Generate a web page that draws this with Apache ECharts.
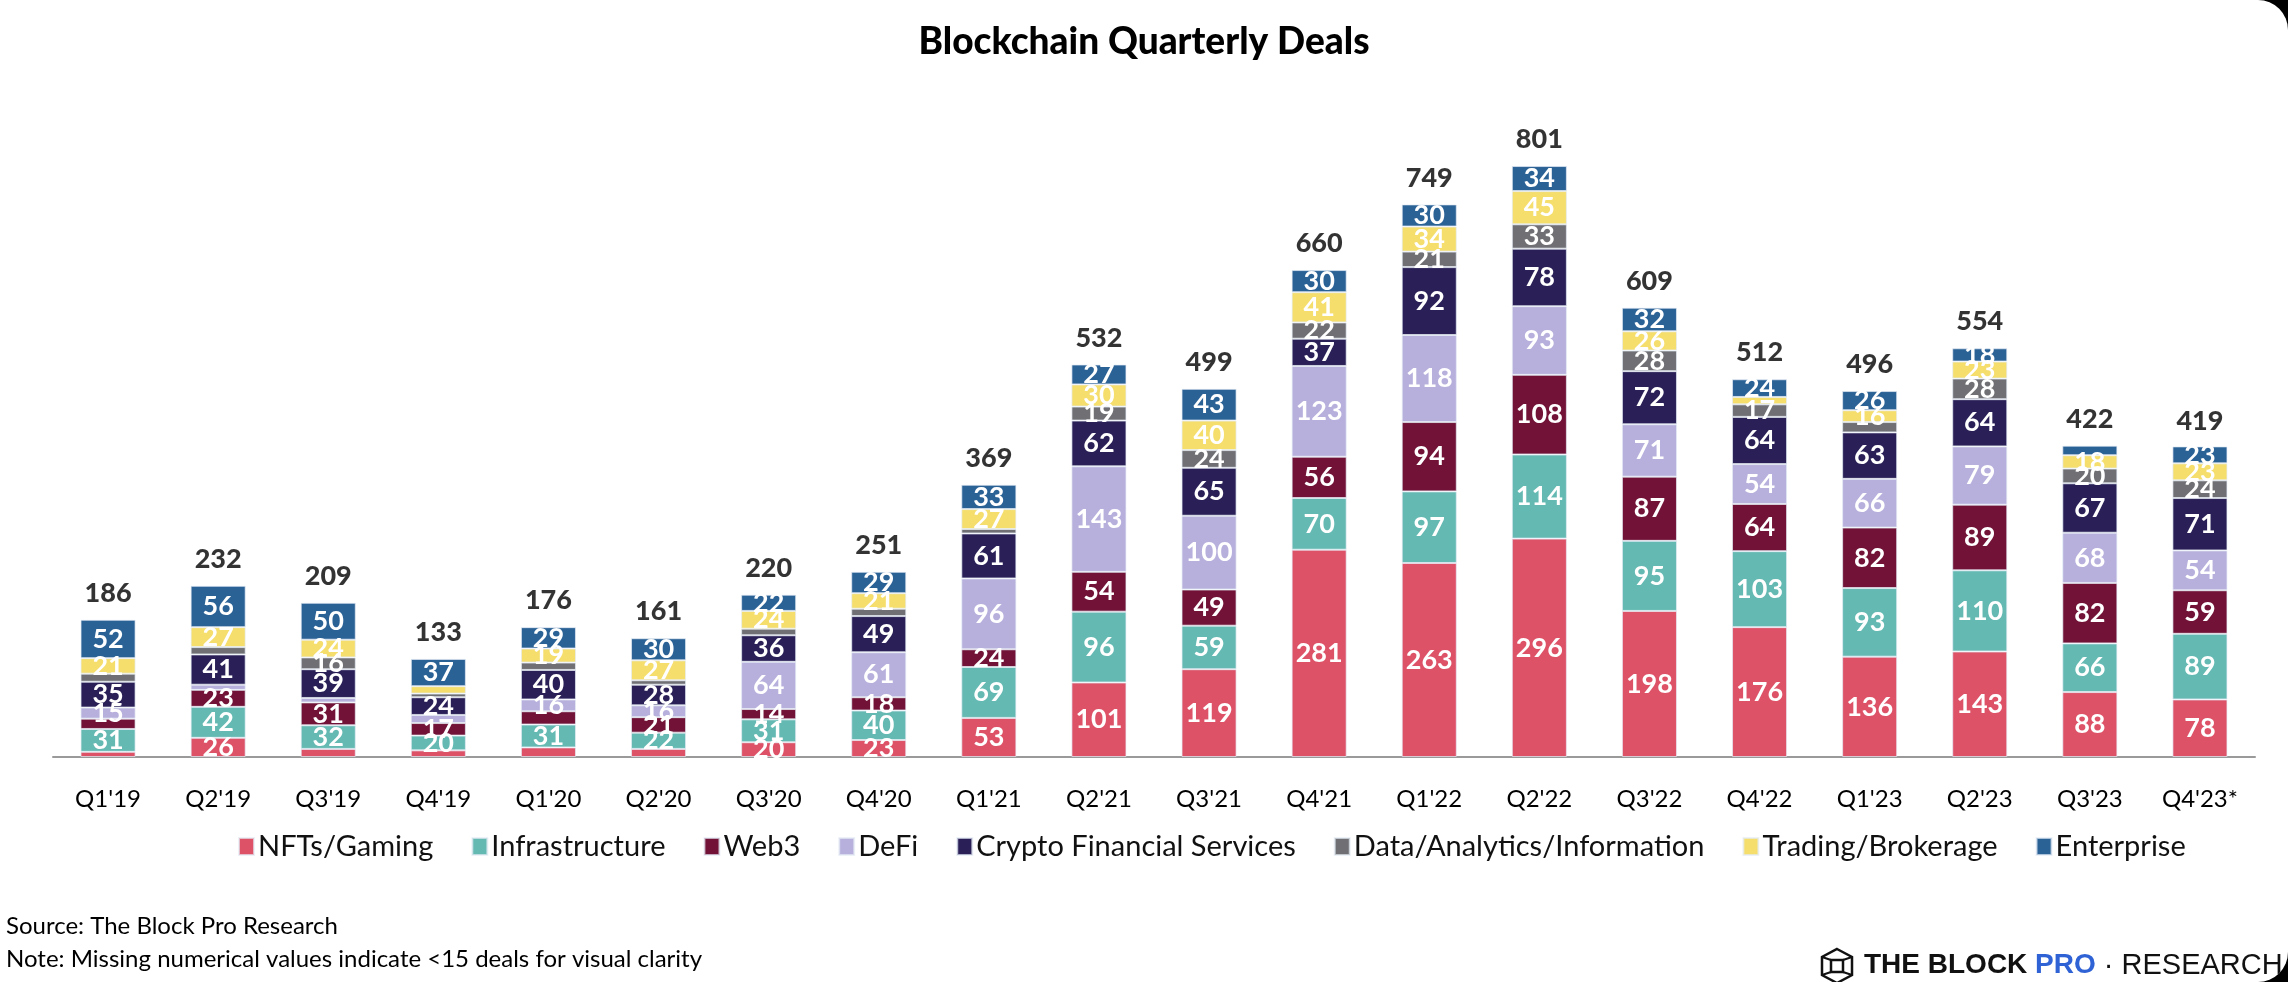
<!DOCTYPE html>
<html>
<head>
<meta charset="utf-8">
<script src="https://cdn.jsdelivr.net/npm/echarts@6/dist/echarts.min.js"></script>
<style>
  html, body { margin: 0; padding: 0; background: #000; }
  #chart { width: 2288px; height: 982px; background: #fff; border-radius: 0 30px 30px 0; overflow: hidden; }
</style>
</head>
<body>
<div id="chart"></div>
<script>
const categories = ["Q1'19","Q2'19","Q3'19","Q4'19","Q1'20","Q2'20","Q3'20","Q4'20","Q1'21","Q2'21","Q3'21","Q4'21","Q1'22","Q2'22","Q3'22","Q4'22","Q1'23","Q2'23","Q3'23","Q4'23*"];
const nftsGaming     = [7,26,11,9,13,11,20,23,53,101,119,281,263,296,198,176,136,143,88,78];
const infrastructure = [31,42,32,20,31,22,31,40,69,96,59,70,97,114,95,103,93,110,66,89];
const web3           = [14,23,31,17,18,21,14,18,24,54,49,56,94,108,87,64,82,89,82,59];
const defi           = [15,7,6,11,16,16,64,61,96,143,100,123,118,93,71,54,66,79,68,54];
const cryptoFinSvc   = [35,41,39,24,40,28,36,49,61,62,65,37,92,78,72,64,63,64,67,71];
const dataAnalytics  = [11,10,16,5,10,6,9,10,6,19,24,22,21,33,28,17,14,28,20,24];
const tradingBrokerage = [21,27,24,10,19,27,24,21,27,30,40,41,34,45,26,10,16,23,18,23];
const enterprise     = [52,56,50,37,29,30,22,29,33,27,43,30,30,34,32,24,26,18,13,23];
const totals         = [186,232,209,133,176,161,220,251,369,532,499,660,749,801,609,512,496,554,422,419];

const seriesDefs = [
  { name: 'NFTs/Gaming', data: nftsGaming, color: '#DE5268' },
  { name: 'Infrastructure', data: infrastructure, color: '#64B9B2' },
  { name: 'Web3', data: web3, color: '#711236' },
  { name: 'DeFi', data: defi, color: '#B7AFDC' },
  { name: 'Crypto Financial Services', data: cryptoFinSvc, color: '#2A2057' },
  { name: 'Data/Analytics/Information', data: dataAnalytics, color: '#707074' },
  { name: 'Trading/Brokerage', data: tradingBrokerage, color: '#F5DE6C' },
  { name: 'Enterprise', data: enterprise, color: '#2B6296' }
];
// labels follow the "<15 hidden" note, with the reference's own exceptions
const labelMin = 15;
const extraLabels = ["Q3'20|Web3"];
const hiddenLabels = ["Q1'20|Web3"];

const FONT = 'Lato';
const chart = echarts.init(document.getElementById('chart'), null, { renderer: 'canvas' });

const barSeries = seriesDefs.map(s => ({
  name: s.name,
  type: 'bar',
  stack: 'deals',
  barWidth: '50%',
  itemStyle: { color: s.color, borderColor: 'rgba(230,236,245,0.7)', borderWidth: 1 },
  label: {
    show: true,
    position: 'inside',
    color: '#fff',
    fontFamily: FONT,
    fontWeight: 'bold',
    fontSize: 27,
    formatter: p => {
      const key = categories[p.dataIndex] + '|' + s.name;
      if (hiddenLabels.includes(key)) return '';
      if (p.value >= labelMin || extraLabels.includes(key)) return String(p.value);
      return '';
    }
  },
  emphasis: { disabled: true },
  data: s.data
}));

const totalSeries = {
  name: 'Total',
  type: 'scatter',
  symbolSize: 0,
  itemStyle: { color: 'rgba(0,0,0,0)' },
  label: {
    show: true,
    position: 'top',
    distance: 13,
    color: '#000',
    fontFamily: FONT,
    fontWeight: 900,
    fontSize: 27,
    formatter: p => String(p.value)
  },
  z: 10,
  data: totals
};

chart.setOption({
  animation: false,
  backgroundColor: 'transparent',
  title: {
    text: 'Blockchain Quarterly Deals',
    left: 'center',
    top: 19,
    textStyle: { fontFamily: FONT, fontWeight: 900, fontSize: 37, color: '#000' }
  },
  legend: {
    data: seriesDefs.map(s => s.name),
    left: 233,
    top: 827,
    itemWidth: 15,
    itemHeight: 17,
    itemGap: 38,
    icon: 'rect',
    textStyle: { fontFamily: FONT, fontSize: 29, color: '#111', padding: [0, 0, 0, -1] }
  },
  grid: { left: 53, right: 33, top: 93, bottom: 225, containLabel: false },
  xAxis: {
    type: 'category',
    data: categories,
    axisLine: { lineStyle: { color: '#9a9a9a', width: 2 } },
    axisTick: { show: false },
    axisLabel: { fontFamily: FONT, fontSize: 24, color: '#000', margin: 30 }
  },
  yAxis: {
    type: 'value',
    min: 0,
    max: 900,
    show: false,
    splitLine: { show: false }
  },
  series: [...barSeries, totalSeries],
  graphic: [
    { type: 'text', left: 6, top: 914, style: { text: 'Source: The Block Pro Research', font: '24px Lato', fill: '#000' } },
    { type: 'text', left: 6, top: 947, style: { text: 'Note: Missing numerical values indicate <15 deals for visual clarity', font: '24px Lato', fill: '#000' } },
    { type: 'polygon', shape: { points: [[1837,949],[1852,957],[1852,975],[1837,983],[1822,975],[1822,957]] }, style: { fill: 'none', stroke: '#111', lineWidth: 2.5 } },
    { type: 'polygon', shape: { points: [[1831,960],[1843,960],[1843,972],[1831,972]] }, style: { fill: 'none', stroke: '#111', lineWidth: 2.5 } },
    { type: 'polyline', shape: { points: [[1822,957],[1831,960]] }, style: { stroke: '#111', lineWidth: 2 } },
    { type: 'polyline', shape: { points: [[1852,957],[1843,960]] }, style: { stroke: '#111', lineWidth: 2 } },
    { type: 'polyline', shape: { points: [[1822,975],[1831,972]] }, style: { stroke: '#111', lineWidth: 2 } },
    { type: 'polyline', shape: { points: [[1852,975],[1843,972]] }, style: { stroke: '#111', lineWidth: 2 } },
    {
      type: 'text', left: 1864, top: 951,
      style: {
        text: '{b|THE BLOCK }{p|PRO}{r| · RESEARCH}',
        rich: {
          b: { font: 'bold 28px "Liberation Sans"', fill: '#111' },
          p: { font: 'bold 28px "Liberation Sans"', fill: '#2F62D5' },
          r: { font: '29px "Liberation Sans"', fill: '#111' }
        }
      }
    }
  ]
});
</script>
</body>
</html>
